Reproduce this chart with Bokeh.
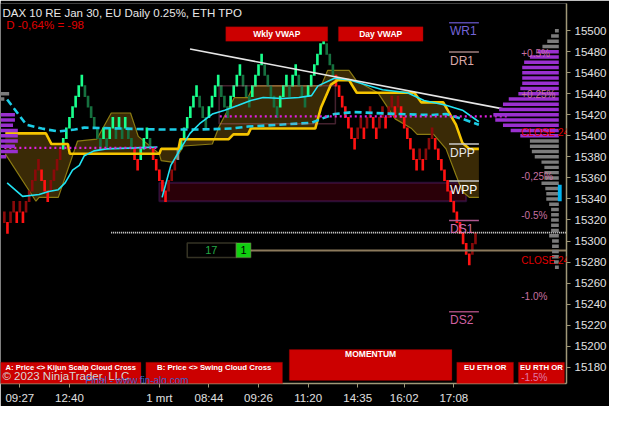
from bokeh.plotting import figure
from bokeh.models import Range1d, FixedTicker, Label, BoxAnnotation, ColumnDataSource
from bokeh.embed import file_html
from bokeh.resources import INLINE

NAN = float("nan")

# ------------------------------------------------------------------ data
TITLE = "DAX 10  RE Jan 30, EU Daily 0.25%, ETH TPO"
SUBTITLE = "D -0,64% = -98"

BRICK_BASE = 15307
BRICK_SIZE = 10
# brick levels (in boxes above BRICK_BASE), one per renko column
brick_k = ([1, 0, 1, 2, 1, 2, 1, 2, 3, 4, 5, 6, 5, 4, 3, 4, 5, 6, 7]
           + [8, 9, 10, 11, 12, 13, 14, 13, 12, 11, 10, 9, 8, 9, 8, 9, 10, 9, 10, 9, 10, 9, 8]
           + [7, 6, 7, 8, 9, 8, 7, 6, 5, 4, 3, 4, 5, 6, 7]
           + [8, 9, 10, 11, 12, 13, 12, 11, 10, 11, 12, 13, 14, 13, 12, 11, 12, 13, 14, 15,
              14, 13, 12, 13, 14, 15, 16, 15, 14, 13, 12, 11, 12, 13, 14, 13, 14, 15, 14, 13,
              12, 13, 14, 15, 16, 17, 18, 17, 16, 15]
           + [14, 13, 12, 11, 10, 9, 8, 9, 10, 9, 10, 11, 10, 9, 10, 11, 10, 11, 12, 11,
              12, 11, 10, 9, 8, 7, 6, 7, 6, 7, 8, 9, 8, 7, 6, 5, 4, 3, 2, 1, 0, -1, -2, -3, -2, -1])
# U up-brick, u pullback in up-trend, D down-brick, d pullback in down-trend, g neutral
brick_kind = list("dDddDdDdddddDDDdddd"
                  "UUUUUUUuuuuuuUuUUuUuUuu"
                  "DDUUUuDDDDDdddg"
                  "UUUUUUuuuUUUUuuuUUUUuuuUUUUuuuuuUUUuUUuuuUUUUUUuuu"
                  "DDDDDDDddDddDDddDddDdDDDDDDdDdddDDDDDDDDDDDDdd")

tick_pos = [5, 21, 50, 66, 82, 98, 114, 129, 145]
tick_labels = ["09:27", "12:40", "1 mrt", "08:44", "09:26", "11:20", "14:35", "16:02", "17:08"]
price_ticks = list(range(15180, 15501, 20))

# daily VWAP (resets each session)
vwap_day_x = [0.9, 5.9, 11.2, 14.3, 17.4, 19.6, 22.0, 24.2, 25.8, 28.9, 32.9, 42.2, 49.4, NAN,
              50.9, 53.7, 56.8, 59.9, 63.0, 67.1, 71.1, 75.5, 79.5, 83.5, 89.8, 95.0, 99.1,
              101.2, 106.5, 111.5, 116.8, 122.0, 130.1, 135.4, 142.5, 147.8, 153.1]
vwap_day_y = [15355.3, 15342.4, 15344.2, 15347.0, 15348.8, 15355.3, 15367.3, 15371.9, 15381.1,
              15385.7, 15387.6, 15388.5, 15389.4, NAN,
              15341.5, 15371.9, 15387.6, 15402.3, 15411.5, 15420.7, 15424.4, 15429.0, 15433.6,
              15436.4, 15435.5, 15436.4, 15438.2, 15447.5, 15454.8, 15453.0, 15448.4, 15443.8,
              15441.0, 15433.6, 15429.0, 15424.4, 15413.4]
# weekly VWAP
vwap_wk_x = [0.9, 7.1, 12.1, 17.4, 22.7, 25.8, 50.0, 63.0, 73.3, 78.6, 99.1, 102.2, 106.5,
             112.7, 127.0, 137.6, 142.5, 147.8, 153.1]
vwap_wk_y = [15434.6, 15410.6, 15406.9, 15404.1, 15406.0, 15407.8, 15406.0, 15406.0, 15406.9,
             15408.8, 15412.4, 15416.1, 15420.7, 15422.6, 15420.7, 15419.8, 15420.7, 15416.1, 15410.6]
# kijun (thick yellow)
kijun_x = [0.3, 13.4, 15.2, 20.5, 21.1, 50.0, 50.6, 56.2, 56.8, 72.4, 73.9, 78.6, 79.5, 100.3,
           102.2, 105.3, 107.5, 111.2, 113.7, 132.3, 134.5, 141.6, 145.7, 147.8, 150.0, 153.1]
kijun_y = [15402.3, 15402.3, 15392.2, 15392.2, 15382.9, 15382.9, 15387.6, 15387.6, 15396.8,
           15396.8, 15401.4, 15401.4, 15406.9, 15406.9, 15427.2, 15448.4, 15453.0, 15453.0,
           15441.0, 15441.0, 15431.8, 15431.8, 15410.6, 15393.1, 15387.6, 15387.6]
# cloud span (olive)
span_x = [0.3, 10.2, 11.2, 17.4, 23.6, 29.8, 34.5, 40.7, 43.2, 50.0, 50.6, 54.7, 57.8, 67.1,
          69.3, 74.2, 78.6, 80.4, 102.2, 104.3, 111.2, 113.7, 120.5, 126.1, 131.4, 133.2,
          138.5, 142.5, 145.7, 147.8, 150.0, 153.1]
span_y = [15382.9, 15337.8, 15341.5, 15341.5, 15394.9, 15396.8, 15421.7, 15421.7, 15399.5,
          15382.9, 15376.5, 15374.7, 15390.3, 15392.2, 15408.8, 15436.4, 15436.4, 15447.5,
          15447.5, 15462.2, 15462.2, 15452.1, 15441.0, 15416.1, 15406.9, 15401.4, 15401.4,
          15387.6, 15362.7, 15347.0, 15341.5, 15341.5]

vpoc_price = [15388.5, 15418.5]
vpoc_x0 = [0.0, 69.5]
vpoc_x1 = [50.0, 163.0]

trend_x = [59.9, 163.0]
trend_y = [15482.5, 15424.4]

last_price = 15308
prior_close = 15291
range_box_price = [15411.5, 15447.5]
range_box_x = [69.3, 106.8]
zone_box_price = [15337.8, 15355.3]
zone_box_x = [50.0, 149.0]

pivot_names = ["WR1", "DR1", "DPP", "WPP", "DS1", "DS2"]
pivot_prices = [15507.4, 15479.7, 15392.2, 15357.1, 15319.4, 15232.7]

pct_labels = ["+0.5%", "+0.25%", "-0,25%", "-0.5%", "-1.0%", "-1.5%"]
pct_prices = [15478, 15439, 15361, 15324, 15247, 15171]
close24_prices = [15403, 15281.6]

prof_prices = list(range(15500, 15274, -5))
prof_width = [4, 8, 12, 17, 22, 30, 36, 38, 38, 38, 38, 40, 42, 52, 58, 62, 68, 66, 58, 50,
              40, 30, 30, 28, 25, 18, 15, 15, 15, 18, 14, 13, 13, 10, 8, 8, 8, 8, 8, 10,
              7, 7, 7, 7, 5, 4]
prof_va = [15400, 15480]
lprof_prices = [15440, 15435, 15420, 15415, 15410, 15405, 15400, 15395, 15390, 15385, 15380]
lprof_width = [9, 4, 15, 15, 13, 18, 18, 18, 15, 18, 6]
lprof_va = [15378, 15425]

# ------------------------------------------------------------------ layout helpers
def X(px):
    return (px - 4) / 3.22


def Y(py):
    return 15500 - (py - 31) / 1.085


FONT = "Liberation Sans"
AXIS = "#a09878"

p = figure(width=609, height=406, output_backend="svg", toolbar_location=None,
           x_range=Range1d(X(0), X(588)), y_range=Range1d(Y(395), Y(3)),
           y_axis_location="right", background_fill_color="black",
           border_fill_color="black", outline_line_color=None,
           min_border_left=0, min_border_right=2, min_border_top=3, min_border_bottom=0)
p.grid.visible = False

for ax in (p.xaxis[0], p.yaxis[0]):
    ax.axis_line_color = AXIS
    ax.axis_line_width = 1.5
    ax.major_tick_line_color = AXIS
    ax.minor_tick_line_color = None
    ax.major_tick_out = 4
    ax.major_tick_in = 0
    ax.major_label_text_color = "#e0e0e0"
    ax.major_label_text_font = FONT
    ax.major_label_text_font_size = "11.5px"
    ax.major_label_standoff = 4
p.yaxis[0].ticker = FixedTicker(ticks=price_ticks)
p.xaxis[0].ticker = FixedTicker(ticks=tick_pos)
p.xaxis[0].major_label_overrides = {t: l for t, l in zip(tick_pos, tick_labels)}

# ------------------------------------------------------------------ cloud
p.patch(span_x + kijun_x[::-1], span_y + kijun_y[::-1], fill_color="#3a2a06",
        line_color=None)
p.line(span_x, span_y, line_color="#8b7b12", line_width=1.2)

# zone box (behind bars)
p.add_layout(BoxAnnotation(left=zone_box_x[0], right=zone_box_x[1],
                           bottom=zone_box_price[0], top=zone_box_price[1],
                           fill_color="#2a0008", fill_alpha=1.0,
                           line_color="#7a30a8", line_width=2, level="underlay"))

# ------------------------------------------------------------------ renko bricks
kind_color = {"U": "#19ff8c", "u": "#16703f", "D": "#ff1212", "d": "#8a0a0a", "g": "#8a8a8a"}
src = ColumnDataSource(dict(
    x=list(range(len(brick_k))),
    bottom=[BRICK_BASE + BRICK_SIZE * k for k in brick_k],
    top=[BRICK_BASE + BRICK_SIZE * k + BRICK_SIZE + 1 for k in brick_k],
    color=[kind_color[c] for c in brick_kind],
))
p.vbar(x="x", width=0.85, bottom="bottom", top="top", fill_color="color",
       line_color=None, source=src)

# ------------------------------------------------------------------ lines
p.line(kijun_x, kijun_y, line_color="#f5c400", line_width=2.6)
p.line(vwap_wk_x, vwap_wk_y, line_color="#1ccde6", line_width=2.6, line_dash="7 4")
p.line(vwap_day_x, vwap_day_y, line_color="#22e4f4", line_width=1.6)
p.segment(x0=vpoc_x0, x1=vpoc_x1, y0=vpoc_price, y1=vpoc_price,
          line_color="#e020e0", line_width=2.2, line_dash="2 3")
p.line(trend_x, trend_y, line_color="#e6e6e6", line_width=1.6)

p.add_layout(BoxAnnotation(left=range_box_x[0], right=range_box_x[1],
                           bottom=range_box_price[0], top=range_box_price[1],
                           fill_alpha=0.0, line_color="#e0709c", line_width=1.5))

p.segment(x0=[X(115)], x1=[X(588)], y0=[last_price], y1=[last_price],
          line_color="#f0f0f0", line_width=1.6, line_dash="1 1")
p.segment(x0=[X(260)], x1=[X(588)], y0=[prior_close], y1=[prior_close],
          line_color="#8c7a5c", line_width=2)

# 17 | 1 counter box
p.add_layout(BoxAnnotation(left=X(194), right=X(245), bottom=Y(265), top=Y(250),
                           fill_color="black", fill_alpha=1, line_color="#b0a878", line_width=1.5))
p.add_layout(BoxAnnotation(left=X(245), right=X(260), bottom=Y(265), top=Y(250),
                           fill_color="#10d010", fill_alpha=1, line_color="#b0a878", line_width=1.5))
p.add_layout(Label(x=X(219), y=Y(257.5), text="17", text_color="#22a844", text_font=FONT,
                   text_font_size="11px", text_align="center", text_baseline="middle"))
p.add_layout(Label(x=X(252.5), y=Y(257.5), text="1", text_color="#000000", text_font=FONT,
                   text_font_size="11px", text_align="center", text_baseline="middle"))

# ------------------------------------------------------------------ pivots
pivot_line = ["#5848a8", "#a08080", "#c8c8c8", "#c8c8c8", "#b05890", "#a04878"]
pivot_text = ["#7464d8", "#d8a8a8", "#e8e8e8", "#ffffff", "#d070b0", "#d060a0"]
for name, pr, lc, tc in zip(pivot_names, pivot_prices, pivot_line, pivot_text):
    p.segment(x0=[X(466)], x1=[X(497)], y0=[pr], y1=[pr], line_color=lc, line_width=1.5)
    p.add_layout(Label(x=X(467), y=pr - 1.5, text=name, text_color=tc, text_font=FONT,
                       text_font_size="12px", text_baseline="top"))

# close 24h texts (partly covered by profile)
for pr in close24_prices:
    p.add_layout(Label(x=X(541), y=pr, text="CLOSE 24 H", text_color="#e00000",
                       text_font=FONT, text_font_size="10px", text_baseline="middle"))

# ------------------------------------------------------------------ volume profiles
SCALE = 3.22
right_edge = X(580)
p.hbar(y=prof_prices, left=[right_edge - w / SCALE for w in prof_width], right=right_edge,
       height=3.3,
       fill_color=["#9a30d0" if prof_va[0] <= pr <= prof_va[1] else "#7c7c7c" for pr in prof_prices],
       line_color=None)
left_edge = X(0)
p.hbar(y=lprof_prices, left=left_edge, right=[left_edge + w / SCALE for w in lprof_width],
       height=3.3,
       fill_color=["#9a30d0" if lprof_va[0] <= pr <= lprof_va[1] else "#7c7c7c" for pr in lprof_prices],
       line_color=None)
p.add_layout(BoxAnnotation(left=X(579), right=X(583), bottom=Y(207), top=Y(190),
                           fill_color="#00b4f0", fill_alpha=1, line_color=None))

for t, pr in zip(pct_labels, pct_prices):
    p.add_layout(Label(x=X(541), y=pr, text=t, text_color="#c870a0", text_font=FONT,
                       text_font_size="10px", text_baseline="middle"))

# ------------------------------------------------------------------ buttons
buttons = [
    ("A: Price <> Kijun Scalp Cloud Cross", 0, 146, 373, 396, 378, "7.6px"),
    ("B: Price <> Swing Cloud Cross", 151, 293, 373, 396, 378, "7.8px"),
    ("MOMENTUM", 300, 469, 360, 392, 365, "8.5px"),
    ("EU ETH OR", 474, 533, 373, 396, 378, "7.8px"),
    ("EU RTH OR", 538, 586, 373, 396, 378, "7.8px"),
    ("Wkly VWAP", 234, 340, 27, 42, 34, "8.5px"),
    ("Day VWAP", 351, 439, 27, 42, 34, "8.5px"),
]
for text, l, r, t, b, ty, fs in buttons:
    p.add_layout(BoxAnnotation(left=X(l), right=X(r), bottom=Y(b), top=Y(t),
                               fill_color="#cc0000", fill_alpha=1, line_color="#7a0000",
                               line_width=1))
    p.add_layout(Label(x=X((l + r) / 2), y=Y(ty), text=text, text_color="#ffffff",
                       text_font=FONT, text_font_style="bold", text_font_size=fs,
                       text_align="center", text_baseline="middle"))
p.add_layout(Label(x=X(541), y=Y(389), text="-1.5%", text_color="#e07aa8", text_font=FONT,
                   text_font_size="10px", text_baseline="middle"))
p.add_layout(Label(x=X(2), y=Y(387), text="\u00a9 2023 NinjaTrader, LLC", text_color="#d8d8d8",
                   text_font=FONT, text_font_size="11.5px", text_baseline="middle"))
p.add_layout(Label(x=X(88), y=Y(392), text="Final - www.fin-alg.com", text_color="#3a5fc8",
                   text_font=FONT, text_font_size="10px", text_baseline="middle"))

# ------------------------------------------------------------------ titles
p.add_layout(Label(x=X(2), y=Y(13), text=TITLE, text_color="#e8e8e8", text_font=FONT,
                   text_font_size="11.5px", text_baseline="middle"))
p.add_layout(Label(x=X(6), y=Y(25), text=SUBTITLE, text_color="#e00000", text_font=FONT,
                   text_font_size="11.5px", text_baseline="middle"))

# ------------------------------------------------------------------ axis bubbles
bubbles = [(15410, "#00ffff"), (last_price, "#ffffff"), (prior_close, "#e6c59a")]
for pr, col in bubbles:
    p.add_layout(Label(x=X(592), y=pr, text=str(pr), text_color="#000000", text_font=FONT,
                       text_font_size="11.5px", text_baseline="middle",
                       background_fill_color=col, background_fill_alpha=1.0,
                       padding=2, border_radius=4))
p.add_layout(Label(x=X(604), y=Y(11), text="F", text_color="#a0a0a0", text_font=FONT,
                   text_font_size="12px", text_baseline="middle",
                   background_fill_color="#202020", border_line_color="#808080",
                   padding=2))

html = file_html(p, INLINE)
html = html.replace("<body>", '<body style="background-color:#000000;">', 1)
open("out.html", "w").write(html)
